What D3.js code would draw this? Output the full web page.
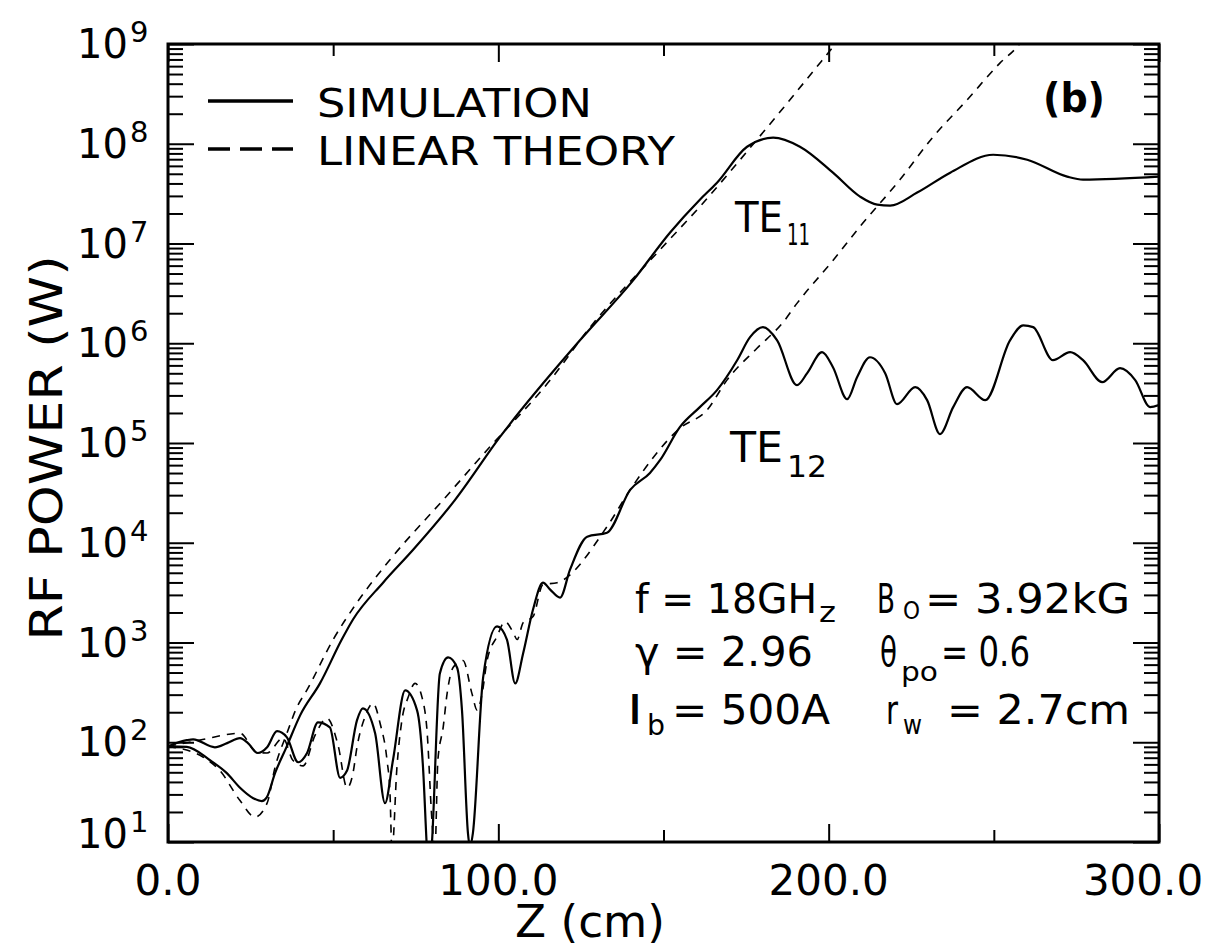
<!DOCTYPE html>
<html>
<head>
<meta charset="utf-8">
<script src="https://cdn.jsdelivr.net/npm/d3@7"></script>
<style>
  body { margin: 0; background: #fff; }
  svg text { font-family: "DejaVu Sans", sans-serif; fill: #000; }
</style>
</head>
<body>
<div id="viz"></div>
<script>
// values: [z (cm), RF power (W)]
var te11Sim = [
  [0, 91], [5.7, 90], [12.7, 66], [17.8, 49], [21.8, 35], [25.8, 27.5], [28.4, 25.7],
  [29.9, 28], [32.4, 49], [35.9, 90], [40, 186], [46, 389], [52.6, 1070], [56, 1700],
  [65.1, 3980], [74.2, 8500], [86.9, 2.69e4], [100.5, 1.15e5], [124.7, 1.07e6],
  [140.8, 4.27e6], [152, 1.29e7], [161, 2.75e7], [166.2, 4.07e7], [175.3, 9.33e7],
  [183.2, 1.15e8], [191.3, 9.33e7], [201.3, 5.13e7], [209.5, 2.95e7], [214.7, 2.45e7],
  [218.6, 2.4e7], [226.8, 3.24e7], [236.8, 5.13e7], [249.8, 7.76e7], [260.1, 6.92e7],
  [272.2, 4.68e7], [277, 4.37e7], [300, 4.68e7]
];
var te11Lin = [
  [0, 91], [10.6, 71], [15.7, 52], [21.8, 26], [26.3, 17.8], [30, 24.5], [32.4, 56],
  [36, 123], [39, 224], [42, 331], [50, 1070], [57.2, 2510], [67.2, 6760], [83.3, 2.69e4],
  [96.6, 8.51e4], [115.7, 4.27e5], [127.8, 1.45e6], [149, 8.7e6], [161, 2.34e7],
  [178.3, 1.1e8], [201.3, 9.33e8], [205, 1.32e9]
];
var te12Sim = [
  [0, 91], [5.7, 105], [7.6, 107], [14.2, 89], [17.9, 98], [21.8, 110], [24.2, 98],
  [27.2, 78], [30, 89], [33, 129], [36, 112], [39.4, 63], [42.1, 78], [45.4, 158],
  [49, 141], [52.1, 44], [54.2, 52], [57.2, 166], [59, 219], [62.7, 123], [65.7, 24.5],
  [68.1, 66], [71.8, 331], [75.4, 209], [77.2, 56], [78.4, 8.3], [79, 4], [79.9, 9.8],
  [82.3, 490], [84.8, 708], [87.5, 562], [89, 209], [90.8, 12.3], [91.4, 8.9], [92.3, 12.3],
  [95.4, 447], [99.6, 1450], [102.6, 1070], [105.1, 389], [107.5, 776], [110.5, 2140],
  [113.5, 3980], [115.7, 3390], [118.7, 2820], [121.7, 5370], [126.9, 1.15e4],
  [132.9, 1.26e4], [139.9, 3.39e4], [145.9, 5.01e4], [149, 6.76e4], [155, 1.45e5],
  [161, 2.29e5], [166.2, 3.39e5], [172.3, 6.76e5], [176.2, 1.15e6], [180.1, 1.45e6],
  [184.4, 1.07e6], [190.4, 3.8e5], [193.5, 5.01e5], [198, 8.13e5], [201.3, 5.75e5],
  [205.6, 2.75e5], [208.6, 4.57e5], [212.5, 7.24e5], [217.1, 5.01e5], [220.7, 2.45e5],
  [226.2, 3.63e5], [229.8, 2.69e5], [233.7, 1.23e5], [237.7, 2.29e5], [241.9, 3.63e5],
  [247.4, 2.69e5], [254.9, 1.07e6], [258.9, 1.51e6], [261.9, 1.45e6], [267.9, 6.76e5],
  [273.1, 8.13e5], [277, 6.76e5], [282.8, 4.07e5], [288.2, 5.62e5], [292.8, 4.27e5],
  [297.3, 2.29e5], [300, 2.4e5]
];
var te12Lin = [
  [0, 91], [9.7, 105], [21.8, 123], [26.9, 79], [30, 78], [34.8, 110], [37.8, 66],
  [40.9, 58], [44.5, 117], [48.1, 174], [51.5, 93], [54.2, 35], [56, 49], [57.2, 89],
  [59.6, 178], [62.1, 245], [64.2, 155], [66.3, 66], [67.2, 31], [67.8, 7.9], [69.3, 56],
  [70.8, 166], [72.7, 282], [74.8, 389], [76.9, 282], [78.4, 132], [79.9, 16.6], [80.8, 7.9],
  [81.7, 66], [83.3, 141], [84.5, 309], [86.3, 562], [89.3, 661], [92, 309], [93.6, 209],
  [95.1, 309], [96.6, 661], [99.6, 1150], [102, 1620], [104.5, 1260], [105.7, 1070],
  [107.5, 1580], [110.5, 1820], [113.5, 3800], [117.8, 3980], [132.9, 1.45e4],
  [139.9, 3.39e4], [155, 1.41e5], [163.2, 2.14e5], [169.2, 4.27e5], [178.3, 8.91e5],
  [186.2, 1.62e6], [190.4, 2.51e6], [201.3, 6.76e6], [209.5, 1.48e7], [221.6, 4.37e7],
  [231.6, 1.17e8], [241.9, 2.75e8], [251.9, 6.46e8], [257, 9.33e8], [260, 1.26e9]
];

var zMajor = [0, 100, 200, 300];
var zMinor = [50, 150, 250];
var zLabels = ["0.0", "100.0", "200.0", "300.0"];
var pExponents = [1, 2, 3, 4, 5, 6, 7, 8, 9];

var W = 1211, H = 950;
var L = 168, R = 1159, T = 44, B = 842;

var x = d3.scaleLinear().domain([0, 300]).range([L, R]);
var y = d3.scaleLog().domain([10, 1e9]).range([B, T]);

var svg = d3.select("#viz").append("svg")
  .attr("width", W).attr("height", H);

svg.append("clipPath").attr("id", "plot")
  .append("rect").attr("x", L).attr("y", T).attr("width", R - L).attr("height", B - T);

// minor log ticks 2..9 in every decade
var minorP = [];
pExponents.slice(0, -1).forEach(function(e){
  for (var k = 2; k <= 9; k++) minorP.push(k * Math.pow(10, e));
});
var majorP = pExponents.map(function(e){ return Math.pow(10, e); });

function noLabels(ax){ return ax.tickFormat(function(){ return ""; }).tickSizeOuter(0); }

svg.append("g").attr("transform", "translate(" + L + ",0)")
  .call(noLabels(d3.axisLeft(y).tickValues(majorP).tickSizeInner(-26)));
svg.append("g").attr("transform", "translate(" + L + ",0)")
  .call(noLabels(d3.axisLeft(y).tickValues(minorP).tickSizeInner(-15)));
svg.append("g").attr("transform", "translate(" + R + ",0)")
  .call(noLabels(d3.axisRight(y).tickValues(majorP).tickSizeInner(-26)));
svg.append("g").attr("transform", "translate(" + R + ",0)")
  .call(noLabels(d3.axisRight(y).tickValues(minorP).tickSizeInner(-15)));
svg.append("g").attr("transform", "translate(0," + B + ")")
  .call(noLabels(d3.axisBottom(x).tickValues(zMajor).tickSizeInner(-18)));
svg.append("g").attr("transform", "translate(0," + B + ")")
  .call(noLabels(d3.axisBottom(x).tickValues(zMinor).tickSizeInner(-12)));
svg.append("g").attr("transform", "translate(0," + T + ")")
  .call(noLabels(d3.axisTop(x).tickValues(zMajor).tickSizeInner(-18)));
svg.append("g").attr("transform", "translate(0," + T + ")")
  .call(noLabels(d3.axisTop(x).tickValues(zMinor).tickSizeInner(-12)));
svg.selectAll(".domain").remove();
svg.selectAll(".tick line").attr("stroke", "#000").attr("stroke-width", 2);

svg.append("rect")
  .attr("x", L).attr("y", T).attr("width", R - L).attr("height", B - T)
  .attr("fill", "none").attr("stroke", "#000").attr("stroke-width", 3);

// y tick labels 10^n
var yl = svg.append("g").selectAll("text").data(pExponents).enter().append("text")
  .attr("x", 128).attr("text-anchor", "end")
  .attr("y", function(d){ return y(Math.pow(10, d)) + 14 - (d === 1 ? 8 : 0); })
  .style("font-size", "40px");
yl.append("tspan").text("10");
yl.append("tspan").attr("x", 130).attr("dy", -16).attr("text-anchor", "start")
  .style("font-size", "29px").text(function(d){ return d; });

// x tick labels
svg.append("g").selectAll("text").data(zMajor).enter().append("text")
  .attr("x", function(d, i){ return x(d) - (i === zMajor.length - 1 ? 16 : 0); })
  .attr("y", 895).attr("text-anchor", "middle")
  .style("font-size", "42px")
  .text(function(d, i){ return zLabels[i]; });

// axis titles
svg.append("text")
  .attr("transform", "translate(62,448) rotate(-90)")
  .attr("text-anchor", "middle").style("font-size", "44px")
  .attr("textLength", 385).attr("lengthAdjust", "spacingAndGlyphs")
  .text("RF POWER (W)");
svg.append("text")
  .attr("x", 590).attr("y", 937).attr("text-anchor", "middle")
  .style("font-size", "44px")
  .attr("textLength", 150).attr("lengthAdjust", "spacingAndGlyphs")
  .text("Z (cm)");

// curves
var line = d3.line()
  .x(function(d){ return x(d[0]); })
  .y(function(d){ return y(d[1]); })
  .curve(d3.curveMonotoneX);

var plot = svg.append("g").attr("clip-path", "url(#plot)");
[te11Lin, te12Lin].forEach(function(s){
  plot.append("path").datum(s).attr("d", line)
    .attr("fill", "none").attr("stroke", "#000")
    .attr("stroke-width", 1.6).attr("stroke-dasharray", "8,7");
});
[te11Sim, te12Sim].forEach(function(s){
  plot.append("path").datum(s).attr("d", line)
    .attr("fill", "none").attr("stroke", "#000")
    .attr("stroke-width", 2.2).attr("stroke-linejoin", "round");
});

// legend
svg.append("line").attr("x1", 208).attr("x2", 293).attr("y1", 101).attr("y2", 101)
  .attr("stroke", "#000").attr("stroke-width", 3.5);
svg.append("line").attr("x1", 208).attr("x2", 293).attr("y1", 149).attr("y2", 149)
  .attr("stroke", "#000").attr("stroke-width", 3.5).attr("stroke-dasharray", "22,10");
svg.append("text").attr("x", 317).attr("y", 117).style("font-size", "39px")
  .attr("textLength", 275).attr("lengthAdjust", "spacingAndGlyphs").text("SIMULATION");
svg.append("text").attr("x", 317).attr("y", 165).style("font-size", "39px")
  .attr("textLength", 358).attr("lengthAdjust", "spacingAndGlyphs").text("LINEAR THEORY");

svg.append("text").attr("x", 1043).attr("y", 112).style("font-size", "40px")
  .style("font-weight", "bold")
  .attr("textLength", 62).attr("lengthAdjust", "spacingAndGlyphs").text("(b)");

// mode labels
function label(px, py, main, sub, subDy, mainLen, subLen){
  var t = svg.append("text").attr("x", px).attr("y", py).style("font-size", "42px");
  t.append("tspan").attr("textLength", mainLen).attr("lengthAdjust", "spacingAndGlyphs").text(main);
  t.append("tspan").attr("dx", 4).attr("dy", subDy).style("font-size", "31px")
    .attr("textLength", subLen).attr("lengthAdjust", "spacingAndGlyphs").text(sub);
}
label(735, 232, "TE", "11", 13, 48, 23);
label(730, 462, "TE", "12", 15, 53, 40);

// parameter block
function part(px, py, str, size, len){
  var t = svg.append("text").attr("x", px).attr("y", py).style("font-size", size + "px").text(str);
  if (len) t.attr("textLength", len).attr("lengthAdjust", "spacingAndGlyphs");
  return t;
}
part(635, 613, "f = 18GH", 40, 182);
part(819, 622, "z", 28, 17);
part(877, 613, "B", 40, 18);
part(903, 619, "O", 24, 17);
part(925, 613, "= 3.92kG", 40, 205);

part(635, 666, "\u03b3 = 2.96", 40, 178);
part(880, 666, "\u03b8", 40, 17);
part(901, 681, "po", 26, 37);
part(941, 666, "= 0.6", 40, 89);

part(627, 724, "I", 40, 16);
part(647, 735, "b", 28, 18);
part(672, 724, "= 500A", 40, 158);
part(886, 724, "r", 40, 12);
part(903, 734, "w", 26, 19);
part(947, 724, "= 2.7cm", 40, 183);
</script>
</body>
</html>
